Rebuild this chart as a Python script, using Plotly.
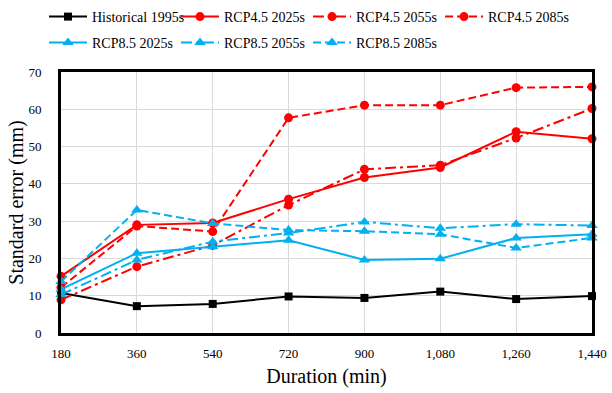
import plotly.graph_objects as go

durations = [180, 360, 540, 720, 900, 1080, 1260, 1440]
tick_labels = ["180", "360", "540", "720", "900", "1,080", "1,260", "1,440"]

hist_1995 = [10.7, 7.2, 7.8, 9.8, 9.4, 11.1, 9.1, 9.9]
rcp45_2025 = [15.2, 29.0, 29.5, 35.9, 41.7, 44.4, 54.0, 52.1]
rcp45_2055 = [8.9, 17.8, 23.5, 34.3, 43.9, 45.0, 52.3, 60.2]
rcp45_2085 = [12.2, 28.7, 27.2, 57.7, 61.1, 61.1, 65.8, 66.0]
rcp85_2025 = [11.7, 21.4, 23.1, 24.9, 19.6, 19.9, 25.5, 26.5]
rcp85_2055 = [10.3, 19.6, 24.5, 26.8, 29.8, 28.1, 29.2, 28.8]
rcp85_2085 = [13.8, 33.0, 29.4, 27.6, 27.3, 26.5, 22.8, 25.5]

RED = "#FF0000"
BLUE = "#00B0F0"
FONT = "Times New Roman, Liberation Serif, serif"
DASH = "8px,4px"
DASHDOT = "11px,4px,3px,4px"

series = [
    ("Historical 1995s", hist_1995, "black", "solid", "square", 8, "legend"),
    ("RCP4.5 2025s", rcp45_2025, RED, "solid", "circle", 9, "legend"),
    ("RCP4.5 2055s", rcp45_2055, RED, DASHDOT, "circle", 9, "legend"),
    ("RCP4.5 2085s", rcp45_2085, RED, DASH, "circle", 9, "legend"),
    ("RCP8.5 2025s", rcp85_2025, BLUE, "solid", "triangle-up", 10, "legend2"),
    ("RCP8.5 2055s", rcp85_2055, BLUE, DASHDOT, "triangle-up", 10, "legend2"),
    ("RCP8.5 2085s", rcp85_2085, BLUE, DASH, "triangle-up", 10, "legend2"),
]

fig = go.Figure()
for name, vals, color, dash, sym, size, leg in series:
    fig.add_trace(go.Scatter(
        x=durations, y=vals, name=name, mode="lines+markers",
        line=dict(color=color, width=2, dash=dash),
        marker=dict(symbol=sym, size=size, color=color),
        cliponaxis=False, legend=leg,
    ))

leg_common = dict(orientation="h", xanchor="left", yanchor="middle",
                  font=dict(family=FONT, size=14, color="black"),
                  entrywidth=79, entrywidthmode="pixels",
                  bgcolor="rgba(0,0,0,0)", itemwidth=38)

fig.update_layout(
    width=612, height=393,
    margin=dict(l=61, r=20, t=72, b=60, autoexpand=False),
    paper_bgcolor="white", plot_bgcolor="white",
    font=dict(family=FONT, size=13, color="black"),
    showlegend=True,
    legend=dict(x=-0.032, y=(393 - 60 - 17) / 261, **leg_common),
    legend2=dict(x=-0.032, y=(393 - 60 - 43) / 261, **leg_common),
    xaxis=dict(
        range=[180, 1440], tickvals=durations, ticktext=tick_labels,
        showgrid=True, gridcolor="#D9D9D9", gridwidth=1,
        showline=True, linecolor="black", linewidth=3, mirror=True,
        ticks="", zeroline=False, ticklabelstandoff=6,
        tickfont=dict(family=FONT, size=13),
        title=dict(text="Duration (min)", font=dict(family=FONT, size=20), standoff=10),
    ),
    yaxis=dict(
        range=[0, 70], tickvals=[0, 10, 20, 30, 40, 50, 60, 70],
        showgrid=True, gridcolor="#D9D9D9", gridwidth=1,
        showline=True, linecolor="black", linewidth=3, mirror=True,
        ticks="", zeroline=False, ticklabelstandoff=14,
        tickfont=dict(family=FONT, size=13),
        title=dict(text="Standard error (mm)", font=dict(family=FONT, size=20), standoff=0),
    ),
)

fig.write_html("out.html")
